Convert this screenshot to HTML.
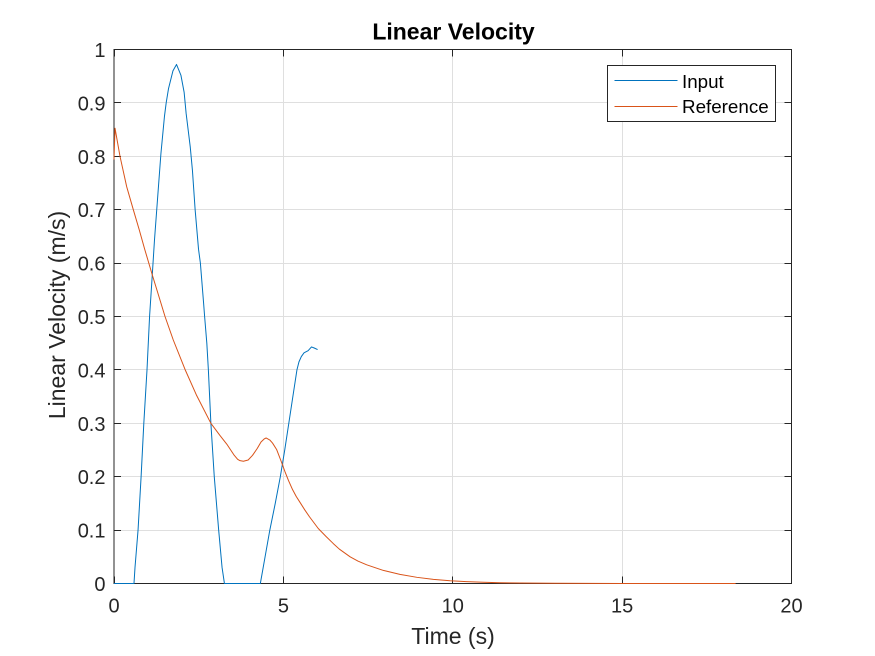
<!DOCTYPE html>
<html>
<head>
<meta charset="utf-8">
<title>Linear Velocity</title>
<style>
html,body{margin:0;padding:0;background:#fff;}
svg{display:block;}
text{font-family:"Liberation Sans",Arial,sans-serif;fill:#262626;}
</style>
</head>
<body>
<svg id="chart" width="875" height="656" viewBox="0 0 875 656" xmlns="http://www.w3.org/2000/svg">
  <rect x="0" y="0" width="875" height="656" fill="#ffffff"/>
  <rect x="114" y="49.5" width="677.5" height="534" fill="#ffffff"/>
  <g id="grid"></g>
  <g id="ticks"></g>
  <rect x="114" y="49.5" width="677.5" height="534" fill="none" stroke="#262626" stroke-width="1"/>
  <g id="series"></g>
  <g id="labels"></g>
  <text x="453.5" y="39.5" font-size="23" font-weight="bold" text-anchor="middle" style="fill:#000">Linear Velocity</text>
  <text x="453" y="644" font-size="23" text-anchor="middle">Time (s)</text>
  <text transform="translate(65,315) rotate(-90)" font-size="23" text-anchor="middle">Linear Velocity (m/s)</text>
  <g>
    <rect x="607.5" y="65.5" width="168" height="56" fill="#ffffff" stroke="#262626" stroke-width="1"/>
    <line x1="614.5" x2="677.5" y1="80.5" y2="80.5" stroke="#0072BD" stroke-width="1"/>
    <text x="682" y="88" font-size="18.8" style="fill:#000">Input</text>
    <line x1="614.5" x2="677.5" y1="106.5" y2="106.5" stroke="#D95319" stroke-width="1"/>
    <text x="682" y="113" font-size="18.8" style="fill:#000">Reference</text>
  </g>
</svg>
<script>
const xTicks = [0, 5, 10, 15, 20];
const yTicks = [0, 0.1, 0.2, 0.3, 0.4, 0.5, 0.6, 0.7, 0.8, 0.9, 1];
const yTickLabels = ["0", "0.1", "0.2", "0.3", "0.4", "0.5", "0.6", "0.7", "0.8", "0.9", "1"];
const inputTime = [0, 0.59, 0.62, 0.71, 0.80, 0.88, 0.975, 1.05, 1.12, 1.195, 1.285, 1.385, 1.49, 1.54, 1.61, 1.74, 1.845, 1.975, 2.07, 2.13, 2.25, 2.315, 2.395, 2.495, 2.55, 2.645, 2.675, 2.74, 2.785, 2.86, 2.96, 3.09, 3.19, 3.26, 4.32, 4.46, 4.6, 4.76, 4.91, 5.04, 5.16, 5.28, 5.4, 5.46, 5.53, 5.61, 5.73, 5.83, 5.91, 6.01];
const inputVelocity = [0, 0, 0.03, 0.1, 0.2, 0.3, 0.401, 0.5, 0.568, 0.643, 0.72, 0.805, 0.875, 0.9, 0.927, 0.96, 0.972, 0.952, 0.92, 0.88, 0.818, 0.774, 0.7, 0.626, 0.6, 0.525, 0.5, 0.45, 0.401, 0.3, 0.2, 0.1, 0.03, 0, 0, 0.05, 0.1, 0.15, 0.2, 0.25, 0.3, 0.35, 0.4, 0.415, 0.425, 0.432, 0.436, 0.443, 0.441, 0.438];
const referenceTime = [0, 0.03, 0.177, 0.375, 0.57, 0.747, 0.906, 1.13, 1.328, 1.506, 1.75, 2.096, 2.44, 2.86, 3.13, 3.33, 3.55, 3.65, 3.72, 3.82, 3.96, 4.09, 4.23, 4.34, 4.44, 4.49, 4.6, 4.68, 4.8, 4.94, 5.05, 5.15, 5.27, 5.38, 5.49, 5.63, 5.77, 5.9, 6.03, 6.26, 6.47, 6.65, 6.97, 7.2, 7.46, 7.95, 8.44, 8.94, 9.43, 9.92, 10.4, 10.9, 11.4, 12, 13, 14, 15, 18.35];
const referenceVelocity = [0.794, 0.8525, 0.80, 0.743, 0.70, 0.662, 0.626, 0.578, 0.537, 0.50, 0.456, 0.401, 0.352, 0.30, 0.277, 0.261, 0.24, 0.2325, 0.23, 0.229, 0.2313, 0.24, 0.253, 0.265, 0.271, 0.2725, 0.2687, 0.263, 0.251, 0.228, 0.209, 0.193, 0.176, 0.163, 0.152, 0.138, 0.125, 0.114, 0.103, 0.088, 0.075, 0.0645, 0.05, 0.042, 0.035, 0.0245, 0.017, 0.0116, 0.0078, 0.0052, 0.0035, 0.0023, 0.0015, 0.0009, 0.0004, 0.0002, 0.0001, 0];

const NS = "http://www.w3.org/2000/svg";
const plotLeft = 114, plotRight = 791.5, plotTop = 49.5, plotBottom = 583.5;
const xMin = 0, xMax = 20, yMin = 0, yMax = 1;
function xScale(v) { return plotLeft + (v - xMin) / (xMax - xMin) * (plotRight - plotLeft); }
function yScale(v) { return plotBottom - (v - yMin) / (yMax - yMin) * (plotBottom - plotTop); }
function crisp(p) { return Math.floor(p) + 0.5; }

function makeLine(parent, x1, y1, x2, y2, color) {
  const l = document.createElementNS(NS, "line");
  l.setAttribute("x1", x1);
  l.setAttribute("y1", y1);
  l.setAttribute("x2", x2);
  l.setAttribute("y2", y2);
  l.setAttribute("stroke", color);
  l.setAttribute("stroke-width", "1");
  parent.appendChild(l);
  return l;
}
function makeLabel(parent, x, y, str, anchor) {
  const t = document.createElementNS(NS, "text");
  t.setAttribute("x", x);
  t.setAttribute("y", y);
  t.setAttribute("font-size", "20");
  t.setAttribute("text-anchor", anchor);
  t.textContent = str;
  parent.appendChild(t);
  return t;
}
function makeSeries(parent, xs, ys, color) {
  const p = document.createElementNS(NS, "polyline");
  p.setAttribute("points", xs.map(function (t, i) { return xScale(t).toFixed(2) + "," + yScale(ys[i]).toFixed(2); }).join(" "));
  p.setAttribute("fill", "none");
  p.setAttribute("stroke", color);
  p.setAttribute("stroke-width", "1");
  p.setAttribute("stroke-linejoin", "round");
  parent.appendChild(p);
  return p;
}

const gridGroup = document.getElementById("grid");
const tickGroup = document.getElementById("ticks");
const labelGroup = document.getElementById("labels");
const seriesGroup = document.getElementById("series");

xTicks.forEach(function (v) {
  const x = crisp(xScale(v));
  if (v !== xMin && v !== xMax) {
    const g = makeLine(gridGroup, x, plotTop, x, plotBottom, "#dfdfdf");
    
    
  }
  const b = makeLine(tickGroup, x, plotBottom, x, plotBottom - 7, "#262626");
  
  
  const t = makeLine(tickGroup, x, plotTop, x, plotTop + 7, "#262626");
  
  
  const lab = makeLabel(labelGroup, xScale(v), 612.5, String(v), "middle");
  
  
});

yTicks.forEach(function (v, i) {
  const y = crisp(yScale(v));
  if (v !== yMin && v !== yMax) {
    const g = makeLine(gridGroup, plotLeft, y, plotRight, y, "#dfdfdf");
    
    
  }
  const l = makeLine(tickGroup, plotLeft, y, plotLeft + 7, y, "#262626");
  
  
  const r = makeLine(tickGroup, plotRight, y, plotRight - 7, y, "#262626");
  
  
  const lab = makeLabel(labelGroup, 105.5, yScale(v) + 7.5, yTickLabels[i], "end");
  
  
});

const inputLine = makeSeries(seriesGroup, inputTime, inputVelocity, "#0072BD");


const referenceLine = makeSeries(seriesGroup, referenceTime, referenceVelocity, "#D95319");


</script>
</body>
</html>
